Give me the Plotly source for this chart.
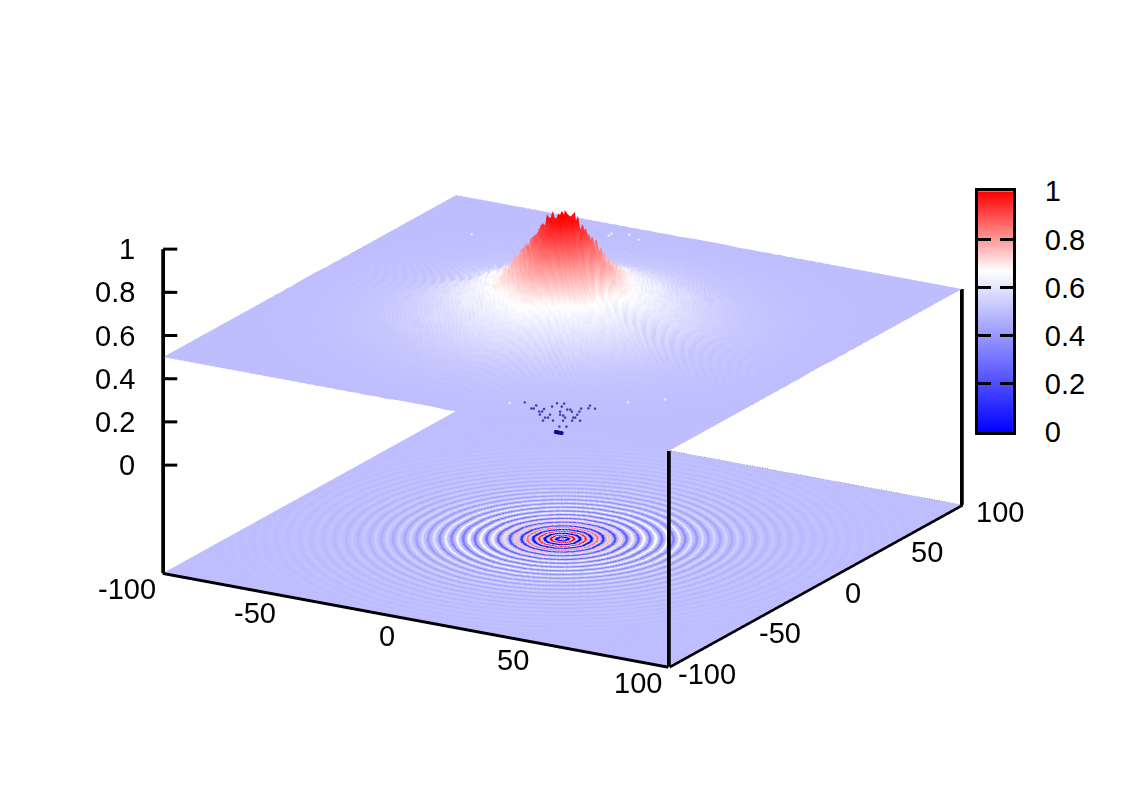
#!/usr/bin/env python3
"""Radial wave plot: envelope surface on top, oscillating map on the floor."""

import numpy as np
import plotly.graph_objects as go

# plate height per integer radius (r = 0 .. 141)
top_mean = [
    1.00, 0.995, 0.99, 0.98, 0.97, 0.95, 0.93, 0.91, 0.89, 0.865, 0.84, 0.815,
    0.80, 0.785, 0.77, 0.755, 0.74, 0.725, 0.71, 0.695, 0.68, 0.665, 0.655, 0.645,
    0.64, 0.63, 0.625, 0.62, 0.615, 0.61, 0.605, 0.60, 0.597, 0.593, 0.59, 0.585,
    0.58, 0.578, 0.575, 0.572, 0.57, 0.566, 0.563, 0.56, 0.558, 0.555, 0.553, 0.55,
    0.548, 0.545, 0.543, 0.54, 0.538, 0.536, 0.534, 0.532, 0.53, 0.529, 0.527, 0.526,
    0.525, 0.524, 0.523, 0.522, 0.521, 0.52, 0.519, 0.518, 0.517, 0.516, 0.515, 0.514,
    0.513, 0.512, 0.512, 0.511, 0.51, 0.51, 0.509, 0.508, 0.508, 0.507, 0.507, 0.506,
    0.506, 0.505, 0.505, 0.504, 0.504, 0.504, 0.503, 0.503, 0.503, 0.502, 0.502, 0.502,
    0.502, 0.501, 0.501, 0.501, 0.501,
] + [0.50] * 41
# ripple size per 5 units of radius, and the shape of one ripple
top_ripple = [0.015, 0.05, 0.07, 0.07, 0.065, 0.06, 0.055, 0.045, 0.037, 0.03, 0.023, 0.017,
              0.012, 0.009, 0.006, 0.005, 0.004, 0.003, 0.002, 0.002, 0.001, 0.001, 0.001,
              0.001, 0.001, 0.001, 0.001, 0.001, 0.001]
ripple_shape = [1.0, 0.7, 0.0, -0.7, -1.0, -0.7, 0.0, 0.7]
floor_profile = [
    1.00, 0.50, 0.00, 0.50, 1.00, 0.50, 0.00, 0.50, 0.95, 0.50, 0.05, 0.50,
    0.86, 0.50, 0.14, 0.50, 0.77, 0.50, 0.23, 0.50, 0.73, 0.50, 0.27, 0.50,
    0.70, 0.50, 0.30, 0.50, 0.68, 0.50, 0.32, 0.50, 0.66, 0.50, 0.34, 0.50,
    0.64, 0.50, 0.36, 0.50, 0.62, 0.50, 0.38, 0.50, 0.59, 0.50, 0.41, 0.50,
    0.575, 0.50, 0.425, 0.50, 0.56, 0.50, 0.44, 0.50, 0.55, 0.50, 0.45, 0.50,
    0.54, 0.50, 0.46, 0.50, 0.532, 0.50, 0.468, 0.50, 0.526, 0.50, 0.474, 0.50,
    0.52, 0.50, 0.48, 0.50, 0.516, 0.50, 0.484, 0.50, 0.513, 0.50, 0.487, 0.50,
    0.511, 0.50, 0.489, 0.50, 0.509, 0.50, 0.491, 0.50, 0.508, 0.50, 0.492, 0.50,
    0.507, 0.50, 0.493, 0.50, 0.506, 0.50, 0.494, 0.50, 0.505, 0.50, 0.495, 0.50,
    0.505, 0.50, 0.495, 0.50, 0.504, 0.50, 0.496, 0.50, 0.504, 0.50, 0.496, 0.50,
    0.503, 0.50, 0.497, 0.50, 0.503, 0.50, 0.497, 0.50, 0.502, 0.50, 0.498, 0.50,
    0.502, 0.50, 0.498, 0.50, 0.502, 0.50, 0.498, 0.50, 0.502, 0.50,
]
palette_levels = [0.0, 0.05, 0.1, 0.15, 0.2, 0.25, 0.3, 0.35, 0.4, 0.45, 0.5,
                  0.55, 0.6, 0.65, 0.7, 0.75, 0.8, 0.85, 0.9, 0.95, 1.0]
xy_ticks = [-100, -50, 0, 50, 100]
xy_text = ["-100", "-50", "0", "50", "100"]
x_label_dx = [-36, -35, -29, -29, -31]
z_ticks = [0, 0.2, 0.4, 0.6, 0.8, 1]
z_text = ["0", "0.2", "0.4", "0.6", "0.8", "1"]
z_floor = -0.5
z_plate = 0.5

# stray samples showing on the plate near its front edge
speck_x = [32.5, 37.5, 37.7, 38.4, 41.7, 42.8, 42.5, 44.8, 45.7, 48.9, 49.8, 52.5, 54.5, 53.5,
           56.7, 41.6, 42.5, 47.9, 51.4, 53.6, 43.5, 46.5, 49.5, 50.9, 54.6, 46.6, 47.5, 52.6,
           55.0, 55.6, 47.6, 50.6, 53.6, 56.3, 58.7, 55.7, 57.8]
speck_y = [-81.9, -82.7, -86.3, -85.9, -84.6, -81.0, -77.1, -76.2, -79.4, -81.2, -80.7, -77.9,
           -76.4, -73.6, -75.6, -87.8, -87.3, -84.3, -82.3, -81.0, -90.5, -88.8, -87.1, -87.4,
           -84.2, -92.4, -91.9, -89.0, -87.6, -87.3, -95.5, -93.8, -92.1, -90.6, -89.3, -98.3,
           -97.1]
blob_x = [55.2, 55.5, 56.3, 56.6, 57.4]
blob_y = [-99.8, -99.8, -99.8, -99.8, -99.8]
white_x = [-73.3, -32.0, -32.2, -26.4, -21.0, 28.4, 63.1, 72.5]
white_y = [64.5, 86.7, 89.0, 91.2, 88.1, -85.1, -64.2, -55.1]

BWR = [[0.0, "#0000ff"], [0.67, "#ffffff"], [1.0, "#ff0000"]]
BLACK = [[0, "black"], [1, "black"]]
FONT = "Liberation Sans"
TICK_FONT = dict(family=FONT, size=29, color="black")

# plate is sampled coarsely on purpose: the ripple beats against the 1 unit grid
grid = np.arange(-100, 101)
X, Y = np.meshgrid(grid, grid)
R = np.hypot(X, Y)
r_idx = np.rint(R).astype(int)
top_z = (np.array(top_mean)[r_idx]
         + np.array(top_ripple)[(R // 5).astype(int)]
         * np.array(ripple_shape)[np.rint(6 * R).astype(int) % len(ripple_shape)])

# floor rings stay clean on a finer grid
fine = np.arange(-100, 100.5, 0.5)
FX, FY = np.meshgrid(fine, fine)
floor_c = np.array(floor_profile)[np.rint(np.hypot(FX, FY)).astype(int)]

flat = dict(ambient=1, diffuse=0, specular=0, fresnel=0, roughness=1)

fig = go.Figure()
fig.add_trace(go.Surface(x=grid, y=grid, z=top_z, surfacecolor=top_z,
                         colorscale=BWR, cmin=0, cmax=1, showscale=False,
                         lighting=flat, hoverinfo="skip"))
fig.add_trace(go.Surface(x=fine, y=fine, z=np.full(FX.shape, z_floor), surfacecolor=floor_c,
                         colorscale=BWR, cmin=0, cmax=1, showscale=False,
                         lighting=flat, hoverinfo="skip"))


def add_ribbon(p0, p1, w):
    """WebGL lines stay 1px here, so thick border lines are thin quads."""
    fig.add_trace(go.Surface(
        x=[[p0[0] - w[0], p0[0] + w[0]], [p1[0] - w[0], p1[0] + w[0]]],
        y=[[p0[1] - w[1], p0[1] + w[1]], [p1[1] - w[1], p1[1] + w[1]]],
        z=[[p0[2] - w[2], p0[2] + w[2]], [p1[2] - w[2], p1[2] + w[2]]],
        surfacecolor=[[0, 0], [0, 0]], colorscale=BLACK, showscale=False,
        lighting=flat, hoverinfo="skip"))


side = (0.55, 0.32, 0)   # about 3px across on screen for vertical lines
lift = (0, 0, 0.007)     # same for lines along the floor
add_ribbon((-100, -100, z_floor), (-100, -100, 1), side)
add_ribbon((100, -100, z_floor), (100, -100, z_plate), side)
add_ribbon((100, 100, z_floor), (100, 100, z_plate), side)
# nudged off the floor edge so they do not fight with it
add_ribbon((-100, -100.4, z_floor), (100, -100.4, z_floor), lift)
add_ribbon((100.4, -100, z_floor), (100.4, 100, z_floor), lift)
for zt in z_ticks:
    add_ribbon((-100, -100, zt), (-95.8, -97.6, zt), lift)

fig.add_trace(go.Scatter3d(x=[-100, 100], y=[100, 100], z=[z_floor, z_floor], mode="lines",
                           line=dict(color="black", width=1, dash="dot"), hoverinfo="skip"))

fig.add_trace(go.Scatter3d(x=speck_x, y=speck_y, z=[0.51] * len(speck_x), mode="markers",
                           marker=dict(size=1.5, color="#4040b0"), hoverinfo="skip"))
fig.add_trace(go.Scatter3d(x=blob_x, y=blob_y, z=[0.49] * len(blob_x), mode="markers",
                           marker=dict(size=2.5, color="#10107a"), hoverinfo="skip"))
fig.add_trace(go.Scatter3d(x=white_x, y=white_y, z=[0.51] * len(white_x), mode="markers",
                           marker=dict(size=1.5, color="#e8e8ff"), hoverinfo="skip"))

# palette strip, ticks on both sides
fig.add_trace(go.Heatmap(x=[0, 1], y=palette_levels,
                         z=[[v, v] for v in palette_levels], zsmooth="best",
                         colorscale=BWR, zmin=0, zmax=1, showscale=False,
                         hoverinfo="skip", xaxis="x", yaxis="y"))

# tick labels hang off the 3D positions so they stay upright like gnuplot's
labels = []
for v, t, dx in zip(xy_ticks, xy_text, x_label_dx):
    labels.append(dict(x=v, y=-100, z=z_floor, text=t, xshift=dx, yshift=-16))
    labels.append(dict(x=100, y=v, z=z_floor, text=t, xshift=38, yshift=-7))
for v, t in zip(z_ticks, z_text):
    labels.append(dict(x=-100, y=-100, z=v, text=t, xshift=-26, yshift=0, xanchor="right"))
for lab in labels:
    lab.update(showarrow=False, font=TICK_FONT, yanchor="middle")
    lab.setdefault("xanchor", "center")


def hidden_axis(rng):
    return dict(range=rng, title=dict(text=""), showgrid=False, zeroline=False,
                showbackground=False, showspikes=False, showline=False,
                showticklabels=False, ticks="")


fig.update_layout(
    width=1125, height=788,
    margin=dict(l=0, r=0, t=0, b=0),
    paper_bgcolor="white",
    showlegend=False,
    font=dict(family=FONT, size=29, color="black"),
    scene=dict(
        domain=dict(x=[0, 0.9858], y=[0.066, 1]),
        aspectmode="manual",
        aspectratio=dict(x=1.689, y=1.689, z=0.9945),
        camera=dict(
            projection=dict(type="orthographic"),
            up=dict(x=0, y=0, z=1),
            center=dict(x=0, y=0, z=0),
            eye=dict(x=0.562, y=-0.970, z=0.379),
        ),
        # a little slack: a surface lying exactly on a bound gets clipped in speckles
        xaxis=hidden_axis([-102, 102]),
        yaxis=hidden_axis([-102, 102]),
        zaxis=hidden_axis([-0.52, 1.02]),
        annotations=labels,
    ),
    xaxis=dict(domain=[0.8622, 0.8933], range=[0, 1], showticklabels=False, ticks="",
               showline=True, mirror=True, linecolor="black", linewidth=3,
               showgrid=False, zeroline=False),
    yaxis=dict(domain=[0.4604, 0.7788], range=[0, 1], side="right", tickvals=z_ticks,
               ticktext=z_text, ticks="inside", ticklen=13, tickwidth=3, tickcolor="black",
               showline=True, mirror="ticks", linecolor="black", linewidth=3,
               showgrid=False, zeroline=False, ticklabelstandoff=23,
               tickfont=TICK_FONT),
)

fig.write_html("out.html")
